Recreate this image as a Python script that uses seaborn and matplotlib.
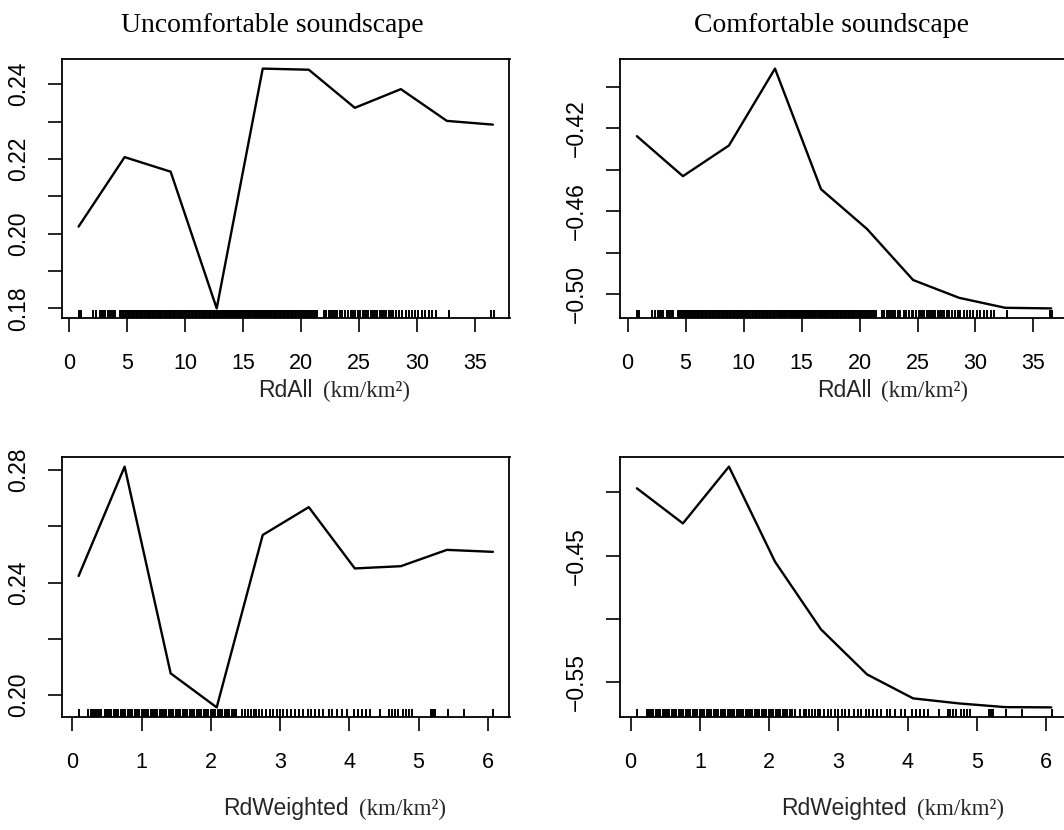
import matplotlib
matplotlib.use("Agg")
import matplotlib.pyplot as plt
import seaborn as sns
import numpy as np
import pandas as pd

# ---------------- data ----------------
x_rdall = [0.80, 4.77, 8.74, 12.71, 16.68, 20.65, 24.62, 28.59, 32.56, 36.53]
y_uncomf_rdall = [0.2019, 0.2205, 0.2166, 0.1800, 0.2442, 0.2439, 0.2337, 0.2387, 0.2302, 0.2292]
y_comf_rdall = [-0.4238, -0.4431, -0.4283, -0.3912, -0.4494, -0.4686, -0.4932, -0.5018, -0.5066, -0.5069]

x_rdw = [0.09, 0.755, 1.42, 2.085, 2.75, 3.415, 4.08, 4.745, 5.41, 6.075]
y_uncomf_rdw = [0.2423, 0.2812, 0.2077, 0.1956, 0.2569, 0.2668, 0.2450, 0.2458, 0.2516, 0.2509]
y_comf_rdw = [-0.3968, -0.4245, -0.3797, -0.4547, -0.5082, -0.5437, -0.5626, -0.5666, -0.5695, -0.5697]

rug_rdall = [
    0.82, 1.02, 2.07, 2.34, 2.66, 2.78, 2.86, 2.98, 3.07, 3.36, 3.50, 3.65, 3.83, 3.94,
    4.38, 4.45, 4.55, 4.62, 4.75, 4.85, 4.92, 5.05, 5.18, 5.25, 5.38, 5.47, 5.60, 5.72,
    5.80, 5.95, 6.08, 6.15, 6.30, 6.42, 6.50, 6.66, 6.78, 6.85, 7.00, 7.12, 7.25, 7.33,
    7.48, 7.60, 7.70, 7.85, 7.95, 8.10, 8.22, 8.30, 8.46, 8.58, 8.66, 8.80, 8.92, 9.05,
    9.15, 9.28, 9.40, 9.52, 9.60, 9.75, 9.88, 9.96, 10.10, 10.22, 10.35, 10.44, 10.58,
    10.70, 10.80, 10.95, 11.05, 11.18, 11.30, 11.42, 11.55, 11.65, 11.78, 11.90, 12.02,
    12.15, 12.25, 12.38, 12.50, 12.60, 12.72, 12.85, 12.95, 13.05, 13.12, 13.20, 13.30,
    13.38, 13.45, 13.55, 13.62, 13.70, 13.80, 13.88, 13.95, 14.05, 14.12, 14.20, 14.30,
    14.38, 14.45, 14.55, 14.62, 14.70, 14.80, 14.88, 14.95, 15.05, 15.12, 15.20, 15.30,
    15.38, 15.45, 15.55, 15.62, 15.70, 15.80, 15.88, 15.95, 16.05, 16.12, 16.20, 16.30,
    16.38, 16.45, 16.55, 16.62, 16.70, 16.80, 16.88, 16.95, 17.05, 17.12, 17.20, 17.30,
    17.40, 17.50, 17.62, 17.70, 17.82, 17.95, 18.05, 18.15, 18.28, 18.40, 18.50, 18.62,
    18.75, 18.85, 18.98, 19.10, 19.20, 19.32, 19.45, 19.55, 19.70, 19.80, 19.92, 20.05,
    20.18, 20.30, 20.45, 20.55, 20.70, 20.82, 20.95, 21.10, 21.25, 21.40, 21.95, 22.15,
    22.40, 22.55, 22.70, 22.90, 23.10, 23.35, 23.50, 23.80, 24.00, 24.25, 24.50, 24.65,
    24.90, 25.10, 25.30, 25.45, 25.60, 25.80, 26.00, 26.20, 26.35, 26.50, 26.75, 26.95,
    27.10, 27.30, 27.55, 27.70, 27.95, 28.20, 28.45, 28.70, 29.00, 29.30, 29.55, 29.80,
    30.10, 30.40, 30.70, 31.00, 31.30, 31.60, 32.70, 36.40, 36.60,
]

rug_rdw = [
    0.09, 0.23, 0.27, 0.30, 0.33, 0.36, 0.39, 0.42, 0.47, 0.50, 0.53, 0.56, 0.60, 0.63,
    0.66, 0.70, 0.73, 0.76, 0.80, 0.83, 0.86, 0.90, 0.93, 0.96, 1.00, 1.03, 1.06, 1.10,
    1.13, 1.16, 1.20, 1.23, 1.26, 1.30, 1.33, 1.36, 1.40, 1.43, 1.46, 1.50, 1.53, 1.56,
    1.60, 1.63, 1.66, 1.70, 1.73, 1.76, 1.80, 1.83, 1.86, 1.90, 1.93, 1.96, 2.00, 2.03,
    2.06, 2.10, 2.13, 2.16, 2.20, 2.23, 2.26, 2.30, 2.33, 2.37, 2.45, 2.50, 2.54, 2.58,
    2.62, 2.66, 2.70, 2.74, 2.80, 2.85, 2.90, 2.95, 3.00, 3.05, 3.10, 3.16, 3.22, 3.28,
    3.33, 3.40, 3.45, 3.50, 3.56, 3.62, 3.70, 3.75, 3.82, 3.90, 3.96, 4.07, 4.12, 4.18,
    4.24, 4.30, 4.45, 4.58, 4.62, 4.66, 4.70, 4.77, 4.82, 4.86, 4.90, 5.18, 5.21, 5.24,
    5.42, 5.66, 6.08,
]

yt_ul = [0.18, 0.19, 0.20, 0.21, 0.22, 0.23, 0.24]
yl_ul = ["0.18", "", "0.20", "", "0.22", "", "0.24"]
yt_ur = [-0.50, -0.48, -0.46, -0.44, -0.42, -0.40]
yl_ur = ["\u22120.50", "", "\u22120.46", "", "\u22120.42", ""]
yt_ll = [0.20, 0.22, 0.24, 0.26, 0.28]
yl_ll = ["0.20", "", "0.24", "", "0.28"]
yt_lr = [-0.55, -0.50, -0.45, -0.40]
yl_lr = ["\u22120.55", "", "\u22120.45", ""]
xt_rdall = [0, 5, 10, 15, 20, 25, 30, 35]
xt_rdw = [0, 1, 2, 3, 4, 5, 6]

titles = ["Uncomfortable soundscape", "Comfortable soundscape"]
xvar_names = ["RdAll", "RdWeighted"]
unit_text = "(km/km\u00b2)"

# ---------------- figure ----------------
sns.set_style("white")
plt.rcParams["font.family"] = ["Liberation Sans", "DejaVu Sans"]
plt.rcParams["axes.unicode_minus"] = True

W, H = 1064, 830
fig = plt.figure(figsize=(W / 100, H / 100), dpi=100)
fig.patch.set_facecolor("white")


def px_axes(left, top, right, bottom):
    return fig.add_axes([left / W, (H - bottom) / H, (right - left) / W, (bottom - top) / H])


panels = [
    # (box px), x, y, rug, yticks, ylabels, xticks
    ((62, 59, 509.5, 318), x_rdall, y_uncomf_rdall, rug_rdall, yt_ul, yl_ul, xt_rdall),
    ((620.3, 59, 1067.8, 318), x_rdall, y_comf_rdall, rug_rdall, yt_ur, yl_ur, xt_rdall),
    ((62, 457, 509.5, 717), x_rdw, y_uncomf_rdw, rug_rdw, yt_ll, yl_ll, xt_rdw),
    ((620.3, 457, 1067.8, 717), x_rdw, y_comf_rdw, rug_rdw, yt_lr, yl_lr, xt_rdw),
]

axes = []
for box, xs, ys, rug, yt, yl, xt in panels:
    ax = px_axes(*box)
    df = pd.DataFrame({"x": xs, "y": ys})
    sns.lineplot(data=df, x="x", y="y", ax=ax, color="black", linewidth=1.7)
    sns.rugplot(x=rug, ax=ax, height=0.03, color="black", linewidth=1.4,
                expand_margins=False)
    xr = max(xs) - min(xs)
    yr = max(ys) - min(ys)
    ax.set_xlim(min(xs) - 0.04 * xr, max(xs) + 0.04 * xr)
    ax.set_ylim(min(ys) - 0.04 * yr, max(ys) + 0.04 * yr)
    ax.set_xticks(xt)
    ax.set_xticklabels([str(v) for v in xt])
    ax.set_yticks(yt)
    ax.set_yticklabels(yl, rotation=90, va="center", ha="right")
    ax.set_xlabel("")
    ax.set_ylabel("")
    ax.tick_params(axis="both", direction="out", length=10, width=1.2,
                   colors="black", bottom=True, left=True)
    ax.tick_params(axis="x", pad=15, labelsize=15.5)
    ax.tick_params(axis="y", pad=13, labelsize=16.5)
    for s in ax.spines.values():
        s.set_visible(True)
        s.set_color("black")
        s.set_linewidth(1.3)
    ax.set_facecolor("white")
    ax.grid(False)
    axes.append(ax)

# column titles
title_cx = [272, 832]
for t, cx in zip(titles, title_cx):
    fig.text(cx / W, (H - 32) / H, t, ha="center", va="baseline",
             fontsize=20, family="Liberation Serif", color="black")

# x-axis labels: variable name (sans) + units (serif)
fig.canvas.draw()
renderer = fig.canvas.get_renderer()
label_rows = [(0, 397), (1, 815)]
box_cx = [285.8, 844]
for row, base in label_rows:
    for cx in box_cx:
        t1 = fig.text(cx / W, (H - base) / H, xvar_names[row], ha="center",
                      va="baseline", fontsize=16.5, family="Liberation Sans")
        bb = t1.get_window_extent(renderer)
        fig.text((bb.x1 + 10) / W, (H - base) / H, unit_text, ha="left",
                 va="baseline", fontsize=16.5, family="Liberation Serif")

fig.savefig("out.png", dpi=100, facecolor="white")
